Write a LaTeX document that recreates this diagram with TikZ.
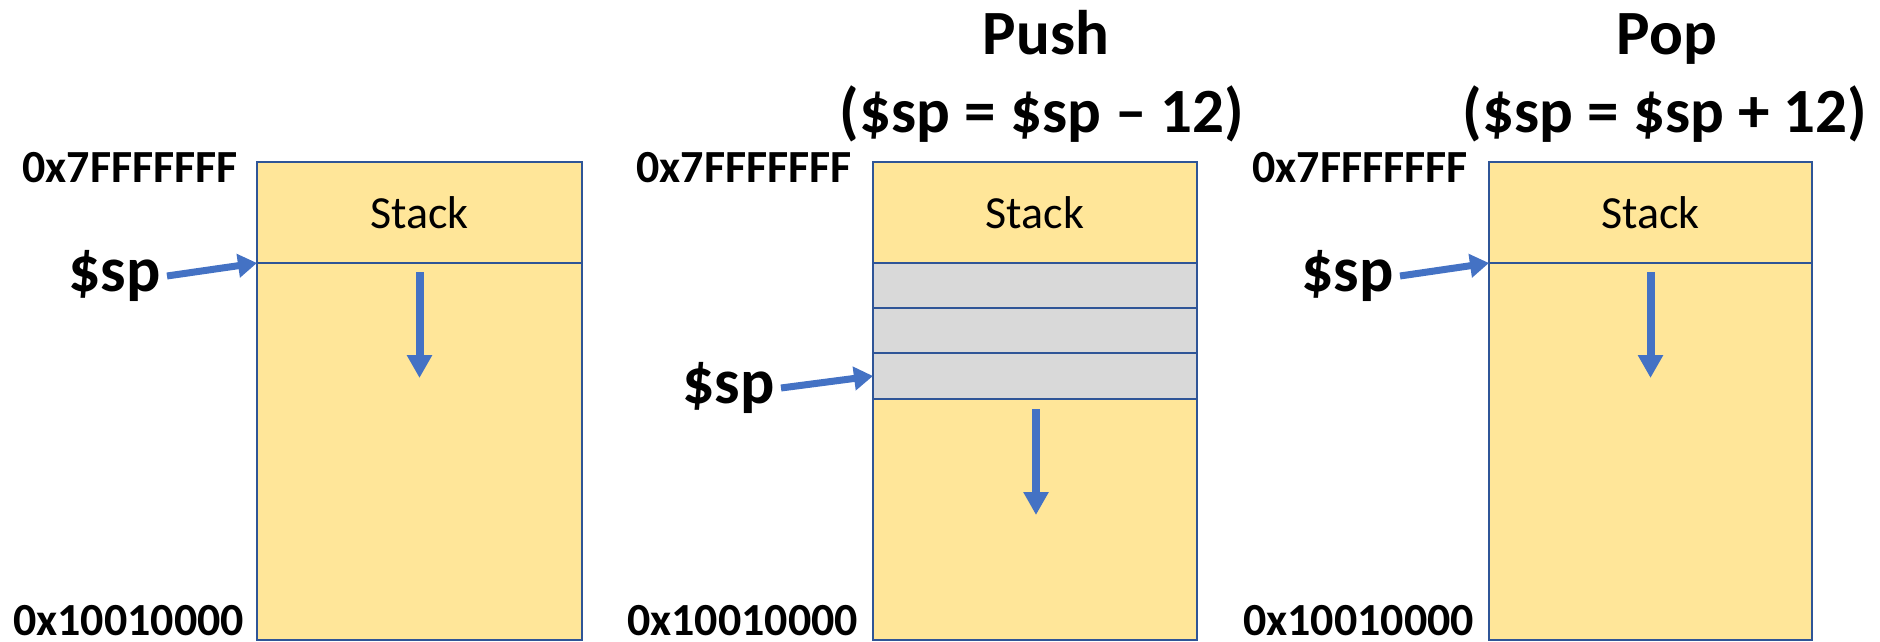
\documentclass[tikz,border=0pt]{standalone}
\usepackage{fontspec}
\setmainfont{Carlito}
\usetikzlibrary{arrows.meta}
\definecolor{cellfill}{HTML}{FFE699}
\definecolor{celledge}{HTML}{2F5597}
\definecolor{pushfill}{HTML}{D9D9D9}
\definecolor{arrowblue}{HTML}{4472C4}

\begin{document}
\begin{tikzpicture}[x=1pt,y=-1pt,
  cell/.style={draw=celledge, line width=2.5pt, fill=cellfill, inner sep=0pt, outer sep=0pt,
    anchor=north west, font=\fontsize{46}{54}\selectfont},
  pushed/.style={cell, fill=pushfill},
  addr/.style={font=\bfseries\fontsize{46}{54}\selectfont, inner sep=0pt},
  highaddr/.style={addr, anchor=base east},
  lowaddr/.style={addr, anchor=base west},
  ptr/.style={font=\bfseries\fontsize{64}{70}\selectfont, inner sep=0pt, anchor=east},
  title/.style={font=\bfseries\fontsize{63}{70}\selectfont, inner sep=0pt, anchor=base},
  growth/.style={draw=arrowblue, line width=8pt, -{Triangle[length=23pt,width=24pt]}},
  spptr/.style={draw=arrowblue, line width=7pt, -{Triangle[length=19pt,width=23pt]}},
]
\useasboundingbox (0,0) rectangle (1880,642);

% ---------- initial stack ----------
\node[cell, minimum width=325pt, minimum height=101pt] (top1) at (257,162) {Stack};
\node[cell, minimum width=325pt, minimum height=377pt] (body1) at (257,263) {};
\node[highaddr] (hi1) at (238,182) {0x7FFFFFFF};
\node[lowaddr] (lo1) at (13,635) {0x10010000};
\node[ptr] (sp1) at (161,276) {\$sp};
\draw[spptr] ([xshift=6pt]sp1.east) -- (top1.south west);
\coordinate (g1s) at (419.5,272);
\coordinate (g1e) at (419.5,378);
\draw[growth] (g1s) -- (g1e);

% ---------- after push ----------
\node[title] (pushT) at (1046,55) {Push};
\node[title] (pushE) at (1042,132) {(\$sp = \$sp \textendash{} 12)};
\node[cell, minimum width=324pt, minimum height=101pt] (top2) at (873,162) {Stack};
\node[pushed, minimum width=324pt, minimum height=45pt] (w1) at (873,263) {};
\node[pushed, minimum width=324pt, minimum height=45pt] (w2) at (873,308) {};
\node[pushed, minimum width=324pt, minimum height=46pt] (w3) at (873,353) {};
\node[cell, minimum width=324pt, minimum height=241pt] (body2) at (873,399) {};
\node[highaddr] (hi2) at (852,182) {0x7FFFFFFF};
\node[lowaddr] (lo2) at (627,635) {0x10010000};
\node[ptr] (sp2) at (775,388) {\$sp};
\draw[spptr] ([xshift=6pt]sp2.east) -- (w3.west);
\coordinate (g2s) at (1036,409);
\coordinate (g2e) at (1036,515);
\draw[growth] (g2s) -- (g2e);

% ---------- after pop ----------
\node[title] (popT) at (1667,55) {Pop};
\node[title] (popE) at (1665,132) {(\$sp = \$sp + 12)};
\node[cell, minimum width=323pt, minimum height=101pt] (top3) at (1489,162) {Stack};
\node[cell, minimum width=323pt, minimum height=377pt] (body3) at (1489,263) {};
\node[highaddr] (hi3) at (1468,182) {0x7FFFFFFF};
\node[lowaddr] (lo3) at (1243,635) {0x10010000};
\node[ptr] (sp3) at (1394,276) {\$sp};
\draw[spptr] ([xshift=6pt]sp3.east) -- (top3.south west);
\coordinate (g3s) at (1650.5,272);
\coordinate (g3e) at (1650.5,378);
\draw[growth] (g3s) -- (g3e);
\end{tikzpicture}
\end{document}
